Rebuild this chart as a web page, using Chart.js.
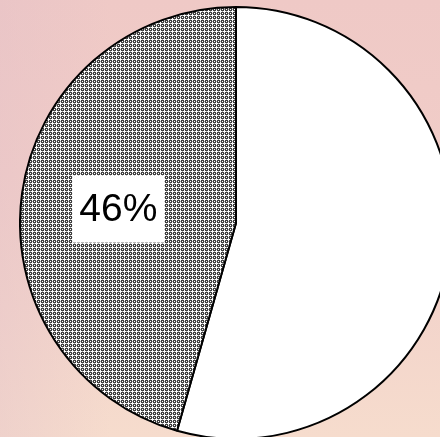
<!DOCTYPE html>
<html>
<head>
<meta charset="utf-8">
<script src="https://cdn.jsdelivr.net/npm/chart.js@4/dist/chart.umd.min.js"></script>
<style>
  html, body { margin: 0; padding: 0; }
  body {
    width: 440px; height: 437px; overflow: hidden; position: relative;
    background:
      linear-gradient(90deg, rgba(225,190,200,0.35) 0%, rgba(225,190,200,0) 25%, rgba(0,0,0,0) 100%),
      linear-gradient(180deg, #efc9c6 0%, #f1cdc8 40%, #f3d4cb 70%, #f6dccd 100%);
  }
  #wrap { position: absolute; left: 19px; top: 6px; width: 434px; height: 434px; }
</style>
</head>
<body>
<div id="wrap"><canvas id="pie"></canvas></div>
<script>
const categories = ['A', 'B'];
const values = [54.4, 45.6];
const sliceText = ['', '46%'];

function hatch() {
  const c = document.createElement('canvas');
  c.width = 4; c.height = 4;
  const g = c.getContext('2d');
  g.fillStyle = '#404040';
  g.fillRect(0, 0, 4, 4);
  g.fillStyle = '#ffffff';
  // white plus in every cell
  [[1,1],[0,1],[2,1],[1,0],[1,2],[3,3]].forEach(p => g.fillRect(p[0], p[1], 1, 1));
  g.fillStyle = '#a8a8a8';
  g.fillRect(3, 1, 1, 1);
  g.fillRect(1, 3, 1, 1);
  return g.createPattern(c, 'repeat');
}

const boxLabels = {
  id: 'boxLabels',
  afterDatasetsDraw(chart) {
    const ctx = chart.ctx;
    chart.getDatasetMeta(0).data.forEach((arc, i) => {
      if (!sliceText[i]) return;
      const p = arc.getProps(['x', 'y', 'startAngle', 'endAngle', 'outerRadius']);
      const mid = (p.startAngle + p.endAngle) / 2;
      const r = p.outerRadius * 0.55;
      const x = p.x + Math.cos(mid) * r;
      const y = p.y + Math.sin(mid) * r;
      ctx.save();
      ctx.font = '39px "Liberation Sans", Arial, sans-serif';
      const w = ctx.measureText(sliceText[i]).width + 14;
      ctx.fillStyle = '#ffffff';
      ctx.fillRect(x - w / 2, y - 31, w, 67);
      ctx.fillStyle = '#000000';
      ctx.textAlign = 'center';
      ctx.textBaseline = 'middle';
      ctx.fillText(sliceText[i], x, y + 4);
      ctx.restore();
    });
  }
};

new Chart(document.getElementById('pie'), {
  type: 'pie',
  data: {
    labels: categories,
    datasets: [{
      data: values,
      backgroundColor: ['#ffffff', hatch()],
      borderColor: '#000000',
      borderWidth: 2
    }]
  },
  options: {
    responsive: true,
    maintainAspectRatio: false,
    animation: false,
    layout: { padding: 0 },
    plugins: { legend: { display: false }, tooltip: { enabled: false } }
  },
  plugins: [boxLabels]
});
</script>
</body>
</html>
